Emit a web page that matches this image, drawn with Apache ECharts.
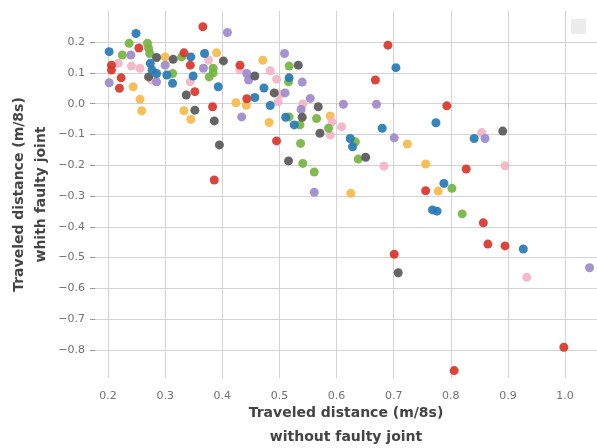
<!DOCTYPE html>
<html>
<head>
<meta charset="utf-8">
<script src="https://cdn.jsdelivr.net/npm/echarts@6/dist/echarts.min.js"></script>
<style>
  html, body { margin: 0; padding: 0; background: #fff; }
  #chart { width: 597px; height: 448px; }
</style>
</head>
<body>
<div id="chart"></div>
<script>
// Tick labels
const xTicks = [0.2, 0.3, 0.4, 0.5, 0.6, 0.7, 0.8, 0.9, 1.0];
const yTicks = [-0.8, -0.7, -0.6, -0.5, -0.4, -0.3, -0.2, -0.1, 0.0, 0.1, 0.2];

// Series values: [without faulty joint, with faulty joint]
const blueData = [
  [0.249, 0.228], [0.202, 0.169], [0.345, 0.152], [0.369, 0.163], [0.274, 0.131],
  [0.277, 0.109], [0.285, 0.098], [0.303, 0.093], [0.313, 0.066], [0.349, 0.090],
  [0.393, 0.055], [0.457, 0.020], [0.704, 0.117], [0.774, -0.062], [0.680, -0.080],
  [0.517, 0.084], [0.473, 0.051], [0.484, -0.006], [0.511, -0.044], [0.526, -0.069],
  [0.624, -0.113], [0.628, -0.140], [0.841, -0.113], [0.788, -0.259], [0.768, -0.345],
  [0.776, -0.349], [0.927, -0.472]
];
const orangeData = [
  [0.300, 0.152], [0.390, 0.165], [0.244, 0.055], [0.256, 0.014], [0.259, -0.023],
  [0.333, -0.023], [0.345, -0.051], [0.424, 0.003], [0.442, -0.005], [0.471, 0.141],
  [0.482, -0.061], [0.589, -0.040], [0.724, -0.131], [0.756, -0.196], [0.625, -0.291],
  [0.778, -0.284]
];
const greenData = [
  [0.237, 0.196], [0.269, 0.196], [0.271, 0.180], [0.273, 0.163], [0.225, 0.158],
  [0.329, 0.152], [0.313, 0.098], [0.384, 0.115], [0.384, 0.100], [0.377, 0.087],
  [0.517, 0.122], [0.516, 0.071], [0.517, -0.043], [0.536, -0.069], [0.565, -0.048],
  [0.586, -0.080], [0.537, -0.129], [0.633, -0.124], [0.541, -0.194], [0.561, -0.222],
  [0.638, -0.180], [0.802, -0.275], [0.820, -0.358]
];
const redData = [
  [0.366, 0.250], [0.254, 0.181], [0.206, 0.125], [0.333, 0.165], [0.206, 0.109],
  [0.223, 0.084], [0.220, 0.050], [0.344, 0.125], [0.352, 0.039], [0.383, -0.010],
  [0.431, 0.125], [0.443, 0.016], [0.690, 0.190], [0.668, 0.077], [0.793, -0.007],
  [0.495, -0.121], [0.386, -0.248], [0.827, -0.212], [0.756, -0.283], [0.857, -0.387],
  [0.865, -0.456], [0.895, -0.462], [0.701, -0.489], [0.806, -0.867], [0.998, -0.791]
];
const purpleData = [
  [0.409, 0.231], [0.240, 0.158], [0.202, 0.068], [0.285, 0.071], [0.300, 0.125],
  [0.367, 0.115], [0.443, 0.098], [0.446, 0.077], [0.434, -0.043], [0.509, 0.163],
  [0.540, 0.070], [0.510, 0.035], [0.554, 0.017], [0.538, -0.019], [0.612, -0.002],
  [0.670, -0.002], [0.701, -0.111], [0.860, -0.113], [0.561, -0.288], [1.043, -0.533]
];
const pinkData = [
  [0.376, 0.142], [0.218, 0.131], [0.241, 0.122], [0.256, 0.115], [0.277, 0.077],
  [0.344, 0.071], [0.431, 0.109], [0.484, 0.107], [0.495, 0.079], [0.502, 0.031],
  [0.498, 0.006], [0.541, -0.001], [0.592, -0.059], [0.609, -0.075], [0.589, -0.102],
  [0.683, -0.203], [0.854, -0.094], [0.895, -0.202], [0.933, -0.564]
];
const grayData = [
  [0.285, 0.150], [0.314, 0.144], [0.402, 0.139], [0.271, 0.087], [0.337, 0.028],
  [0.352, -0.021], [0.386, -0.056], [0.395, -0.134], [0.457, 0.090], [0.533, 0.125],
  [0.491, 0.035], [0.568, -0.010], [0.540, -0.044], [0.571, -0.096], [0.516, -0.186],
  [0.651, -0.174], [0.891, -0.089], [0.708, -0.549]
];

const groups = [
  { data: orangeData, color: '#f7b94c' },
  { data: pinkData, color: '#f3b4c6' },
  { data: purpleData, color: '#9d8acc' },
  { data: greenData, color: '#76b442' },
  { data: grayData, color: '#585858' },
  { data: blueData, color: '#2679b5' },
  { data: redData, color: '#d8362b' }
];

const fmt = v => {
  const s = Math.abs(v).toFixed(1);
  return (v < -1e-9 ? '\u2212' : '') + s;
};

const chart = echarts.init(document.getElementById('chart'), null, { renderer: 'canvas' });
chart.setOption({
  animation: false,
  backgroundColor: '#ffffff',
  textStyle: { fontFamily: 'DejaVu Sans' },
  grid: { left: 95, right: 0, top: 11, bottom: 70, containLabel: false, outerBoundsMode: 'none' },
  xAxis: {
    type: 'value',
    min: 0.1772,
    max: 1.056,
    axisLine: { show: false },
    axisTick: { show: true, customValues: xTicks, length: 4, lineStyle: { color: '#bbbbbb' } },
    axisLabel: { customValues: xTicks, formatter: fmt, color: '#707070', fontSize: 11, margin: 13, fontFamily: 'DejaVu Sans' },
    splitLine: { show: true, lineStyle: { color: '#d3d3d3', width: 1 } },
    name: 'Traveled distance (m/8s)\nwithout faulty joint',
    nameLocation: 'middle',
    nameGap: 23,
    nameMoveOverlap: false,
    nameTextStyle: { fontFamily: 'DejaVu Sans', fontWeight: 'bold', fontSize: 14, color: '#444444', lineHeight: 24 }
  },
  yAxis: {
    type: 'value',
    min: -0.891,
    max: 0.301,
    axisLine: { show: false },
    axisTick: { show: true, customValues: yTicks, length: 5, lineStyle: { color: '#999999' } },
    axisLabel: { customValues: yTicks, formatter: fmt, color: '#707070', fontSize: 11, margin: 10, fontFamily: 'DejaVu Sans' },
    splitLine: { show: true, lineStyle: { color: '#d3d3d3', width: 1 } },
    name: 'Traveled distance (m/8s)\nwhith faulty joint',
    nameLocation: 'middle',
    nameGap: 43,
    nameMoveOverlap: false,
    nameTextStyle: { fontFamily: 'DejaVu Sans', fontWeight: 'bold', fontSize: 14, color: '#444444', lineHeight: 22 }
  },
  graphic: [
    { type: 'rect', shape: { x: 571, y: 19, width: 15, height: 15 }, style: { fill: '#ececec' }, z: 10 }
  ],
  series: groups.map(g => ({
    type: 'scatter',
    data: g.data,
    symbol: 'circle',
    symbolSize: 9,
    itemStyle: { color: g.color, opacity: 0.92 }
  }))
});
</script>
</body>
</html>
